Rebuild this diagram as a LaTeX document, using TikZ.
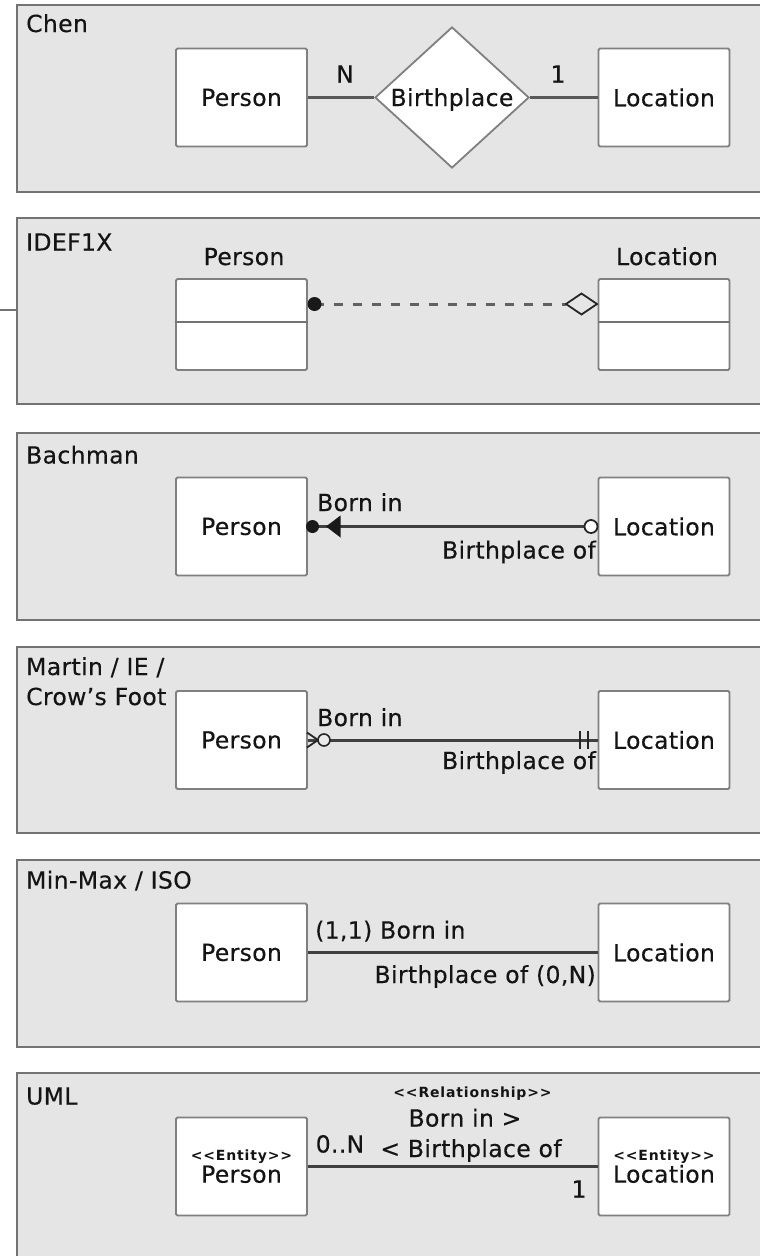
\documentclass[tikz,border=0pt]{standalone}
\usepackage{fontspec}
\setmainfont{DejaVu Sans}[LetterSpace=1.5, FakeBold=0.35]
\newfontfamily\stereofont{DejaVu Sans}[Ligatures=TeXOff, LetterSpace=6]
\newcommand\stereo[1]{{\stereofont\bfseries\fontsize{14}{16}\selectfont #1}}
\usetikzlibrary{shapes.geometric}
\begin{document}
\begin{tikzpicture}[x=1pt,y=-1pt,
  every node/.style={font=\fontsize{23.5}{30}\selectfont, text=black!92},
  panel/.style={draw=black!55, fill=black!10, line width=2pt},
  entity/.style={draw=black!50, fill=white, line width=1.8pt, rounded corners=1.5pt,
    minimum width=131pt, minimum height=98pt, inner sep=0pt, align=center},
  relship/.style={diamond, draw=black!50, fill=white, line width=1.8pt,
    minimum width=154pt, minimum height=141pt, inner sep=0pt, aspect=1.09,
    text height=17pt, text depth=0pt},
  txt/.style={inner sep=0pt, text height=17pt, text depth=0pt},
  heading/.style={txt, anchor=west},
  conn/.style={draw=black!75, line width=3pt},
  dashconn/.style={draw=black!62, line width=3pt, dash pattern=on 9pt off 10pt},
  divider/.style={draw=black!55, line width=2pt},
  endmark/.style={draw=black!85, line width=1.8pt},
]
\useasboundingbox (0,0) rectangle (760,1256);
\clip (0,0) rectangle (760,1256);

% ---------------- Chen ----------------
\draw[panel] (17,5) rectangle (790,192);
\node[heading] (hChen) at (26,23.5) {Chen};
\node[entity] (P1) at (241.5,97.5) {Person};
\node[entity] (L1) at (664,97.5) {Location};
\node[relship] (R1) at (452,97.5) {Birthplace};
\draw[conn, draw=black!65] (P1) -- (R1);
\draw[conn, draw=black!65] (R1) -- (L1);
\node[txt] (n1) at (345,74) {N};
\node[txt] (o1) at (558,74) {1};

% ---------------- IDEF1X ----------------
\draw[panel] (17,218) rectangle (790,404);
\coordinate (s0) at (0,310);
\coordinate (s1) at (17,310);
\draw[draw=black!55, line width=1.5pt] (s0) -- (s1);
\node[heading] (hIdef) at (26,242) {IDEF1X};
\node[entity, minimum height=91pt] (P2) at (241.5,324.5) {};
\node[entity, minimum height=91pt] (L2) at (664,324.5) {};
\draw[divider] ([yshift=-44pt]P2.north west) -- ([yshift=-44pt]P2.north east);
\draw[divider] ([yshift=-44pt]L2.north west) -- ([yshift=-44pt]L2.north east);
\node[txt] (P2l) at (244,256.5) {Person};
\node[txt] (L2l) at (667,256.5) {Location};
\coordinate (d2a) at (314.5,304);
\coordinate (d2b) at (566,304);
\draw[dashconn] (d2a) -- (d2b);
\fill[black!90] (d2a) circle (7);
\draw[endmark, fill=black!10] (d2b) -- ++(15.5,-10.5) -- ++(15.5,10.5) -- ++(-15.5,10.5) -- cycle;

% ---------------- Bachman ----------------
\draw[panel] (17,433) rectangle (790,620);
\node[heading] (hBach) at (26,455) {Bachman};
\node[entity] (P3) at (241.5,526.5) {Person};
\node[entity] (L3) at (664,526.5) {Location};
\draw[conn] (P3) -- (L3);
\fill[black!90] (312.5,526.5) circle (6.5);
\fill[black!90] (326,526.5) -- (340.5,515.5) -- (340.5,537.5) -- cycle;
\draw[endmark, fill=white] (591,526.5) circle (6.5);
\node[txt, anchor=west] (b3) at (317,502.5) {Born in};
\node[txt, anchor=east] (bp3) at (596,550) {Birthplace of};

% ---------------- Martin / IE / Crow's Foot ----------------
\draw[panel] (17,647) rectangle (790,833);
\node[anchor=north west, inner sep=0pt, align=left, font=\fontsize{23.5}{30}\selectfont] (hCrow) at (26,657) {Martin / IE /\\Crow's Foot};
\node[entity] (P4) at (241.5,740) {Person};
\node[entity] (L4) at (664,740) {Location};
\draw[conn] (P4) -- (L4);
\draw[endmark, line width=1.8pt] (307,732.5) -- (318,740) -- (307,747.5);
\draw[endmark, line width=1.6pt, fill=black!8] (324,740) circle (6);
\draw[endmark, line width=2pt] (580,731) -- (580,749);
\draw[endmark, line width=2pt] (588,731) -- (588,749);
\node[txt, anchor=west] (b4) at (317,717.5) {Born in};
\node[txt, anchor=east] (bp4) at (596,760.5) {Birthplace of};

% ---------------- Min-Max / ISO ----------------
\draw[panel] (17,860) rectangle (790,1047);
\node[heading] (hMin) at (26,880) {Min-Max / ISO};
\node[entity] (P5) at (241.5,952.5) {Person};
\node[entity] (L5) at (664,952.5) {Location};
\draw[conn] (P5) -- (L5);
\node[txt, anchor=west] (b5) at (315,930) {(1,1) Born in};
\node[txt, anchor=east] (bp5) at (596,974.5) {Birthplace of (0,N)};

% ---------------- UML ----------------
\draw[panel] (17,1073) rectangle (790,1290);
\node[heading] (hUml) at (26,1096) {UML};
\node[entity, font=\fontsize{23.5}{22}\selectfont] (P6) at (241.5,1166.5) {\stereo{<<Entity>>}\\Person};
\node[entity, font=\fontsize{23.5}{22}\selectfont] (L6) at (664,1166.5) {\stereo{<<Entity>>}\\Location};
\draw[conn] (P6) -- (L6);
\node[inner sep=0pt] (st6) at (472.5,1094) {\stereo{<<Relationship>>}};
\node[txt] (b6) at (465,1118) {Born in >};
\node[txt] (bp6) at (471,1148.5) {< Birthplace of};
\node[txt] (m6) at (340,1144) {0..N};
\node[txt] (o6) at (579,1189) {1};
\end{tikzpicture}
\end{document}
